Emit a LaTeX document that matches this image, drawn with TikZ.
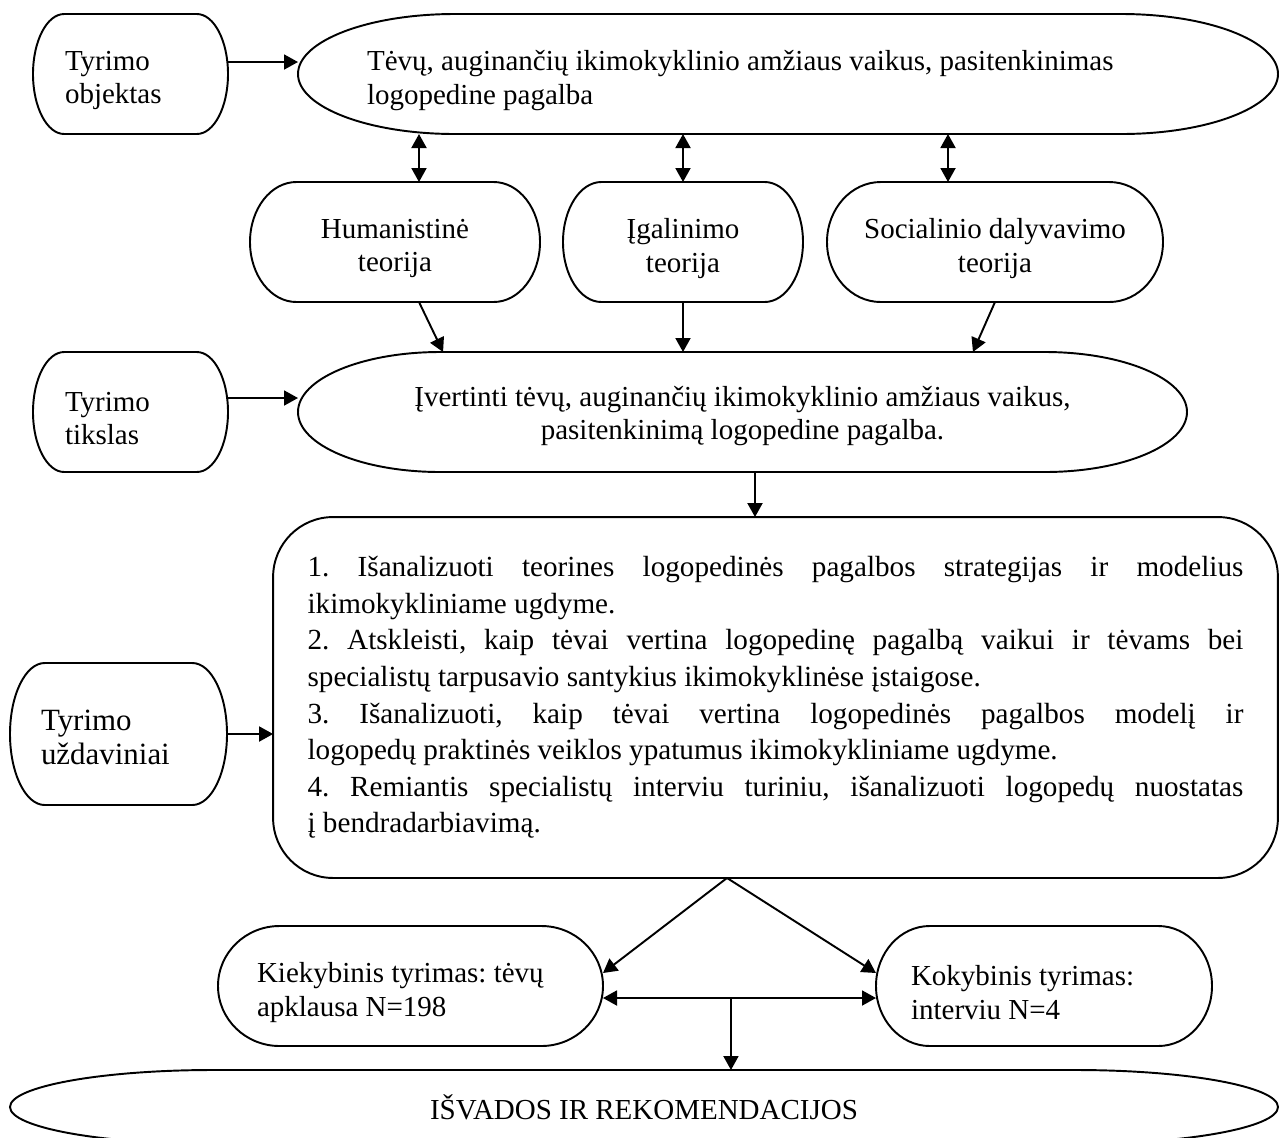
\documentclass[tikz,border=0pt]{standalone}
\usepackage{fontspec}
\setmainfont{Liberation Serif}
\usetikzlibrary{positioning,arrows.meta,calc}

% terminator-like box: flat top and bottom, half ellipses at the ends
% #2 name, #3-#6 corners in px, #7 text
\newcommand{\termbox}[7][]{%
  \node[termshape, minimum width={(#5-#3)*0.02cm}, minimum height={(#6-#4)*0.02cm}]
    (#2) at ({(#3+#5)/2},{(#4+#6)/2}) {};
  \node[termtext, #1] (#2-txt) at (#2.center) {#7};
  \draw[outline] let \p1=(#2.north west), \p2=(#2.south east),
      \n1={0.16*(\x2-\x1)}, \n2={(\y1-\y2)/2} in
    (\x1+\n1,\y1) -- (\x2-\n1,\y1)
    arc[start angle=90, end angle=-90, x radius=\n1, y radius=\n2]
    -- (\x1+\n1,\y2)
    arc[start angle=270, end angle=90, x radius=\n1, y radius=\n2]
    -- cycle;
}

\begin{document}
\frenchspacing
\begin{tikzpicture}[x=0.02cm, y=-0.02cm,
    termshape/.style={inner sep=0pt, outer sep=0pt},
    termtext/.style={inner sep=0pt, align=center, yshift=-.13cm,
      font=\fontsize{16.5}{19}\selectfont},
    outline/.style={line width=1.1pt},
    arr/.style={line width=1.1pt, -{Triangle[length=0.28cm, width=0.3cm]}},
    darr/.style={line width=1.1pt,
      {Triangle[length=0.28cm, width=0.3cm]}-{Triangle[length=0.28cm, width=0.3cm]}},
    taskbox/.style={draw, line width=1.1pt, rounded corners=1.2cm,
      inner sep=0pt, outer sep=0pt}]

    \useasboundingbox (0,0) rectangle (1279,1137);
    \clip (0,0) rectangle (1279,1137);

    % Object
    \termbox[text width=2.62cm, align=flush left]{objektas}{33}{14}{228}{134}{Tyrimo\\objektas}
    \termbox[text width=16.84cm, align=flush left]{tevai}{298}{14}{1278}{134}
      {Tėvų, auginančių ikimokyklinio amžiaus vaikus, pasitenkinimas\\logopedine pagalba}
    \draw[arr] ([yshift=.24cm]objektas.east) -- ([yshift=.24cm]tevai.west);

    % Theories
    \termbox{human}{250}{182}{540}{302}{Humanistinė\\teorija}
    \termbox{igalin}{563}{182}{803}{302}{Įgalinimo\\teorija}
    \termbox{social}{827}{182}{1163}{302}{Socialinio dalyvavimo\\teorija}
    \draw[darr] ([xshift=.48cm]human.north) -- ([xshift=.48cm]human.north |- tevai.south);
    \draw[darr] (igalin.north) -- (igalin.north |- tevai.south);
    \draw[darr] ([xshift=-.94cm]social.north) -- ([xshift=-.94cm]social.north |- tevai.south);

    % Aim
    \termbox[text width=2.62cm, align=flush left]{tikslas}{33}{352}{228}{472}{Tyrimo\\tikslas}
    \termbox[yshift=.05cm]{ivertinti}{298}{352}{1187}{472}
      {Įvertinti tėvų, auginančių ikimokyklinio amžiaus vaikus,\\pasitenkinimą logopedine pagalba.}
    \draw[arr] ([yshift=.28cm]tikslas.east) -- ([yshift=.28cm]ivertinti.west);
    \draw[arr] ([xshift=.48cm]human.south) -- ([xshift=-5.99cm]ivertinti.north);
    \draw[arr] (igalin.south) -- (igalin.south |- ivertinti.north);
    \draw[arr] (social.south) -- ([xshift=4.61cm]ivertinti.north);

    % Tasks
    \termbox[text width=3.1cm, align=flush left, yshift=.06cm, font=\fontsize{17.6}{19.5}\selectfont]
      {uzdaviniai}{10}{663}{227}{805}{Tyrimo\\uždaviniai}
    \node[taskbox, minimum width=20.1cm, minimum height=7.22cm] (tasks) at (775.5,697.5) {%
      \begin{minipage}{18.72cm}
        \fontsize{16.6}{20.8}\selectfont
        1. Išanalizuoti teorines logopedinės pagalbos strategijas ir modelius\linebreak
        ikimokykliniame ugdyme.\\
        2. Atskleisti, kaip tėvai vertina logopedinę pagalbą vaikui ir tėvams bei\linebreak
        specialistų tarpusavio santykius ikimokyklinėse įstaigose.\\
        3. Išanalizuoti, kaip tėvai vertina logopedinės pagalbos modelį ir\linebreak
        logopedų praktinės veiklos ypatumus ikimokykliniame ugdyme.\\
        4. Remiantis specialistų interviu turiniu, išanalizuoti logopedų nuostatas\linebreak
        į bendradarbiavimą.
      \end{minipage}};
    \draw[arr] ([xshift=.25cm]ivertinti.south) -- ([xshift=.25cm]ivertinti.south |- tasks.north);
    \draw[arr] (uzdaviniai.east) -- (uzdaviniai.east -| tasks.west);

    % Methods
    \termbox[text width=6.14cm, align=flush left]{kiekyb}{218}{926}{603}{1046}
      {Kiekybinis tyrimas: tėvų\\apklausa N=198}
    \termbox[text width=5.32cm, align=flush left]{kokyb}{876}{926}{1212}{1046}
      {Kokybinis tyrimas:\\interviu N=4}
    \draw[arr] ([xshift=-.97cm]tasks.south) -- ([yshift=.26cm]kiekyb.east);
    \draw[arr] ([xshift=-.97cm]tasks.south) -- ([yshift=.26cm]kokyb.west);
    \draw[darr] ([yshift=-.24cm]kiekyb.east) -- ([yshift=-.24cm]kokyb.west);
    \coordinate (split) at ([xshift=2.56cm, yshift=-.24cm]kiekyb.east);

    % Conclusions
    \termbox[yshift=.13cm]{isvados}{10}{1070}{1278}{1144}{IŠVADOS IR REKOMENDACIJOS}
    \draw[arr] (split) -- (split |- isvados.north);
\end{tikzpicture}
\end{document}
